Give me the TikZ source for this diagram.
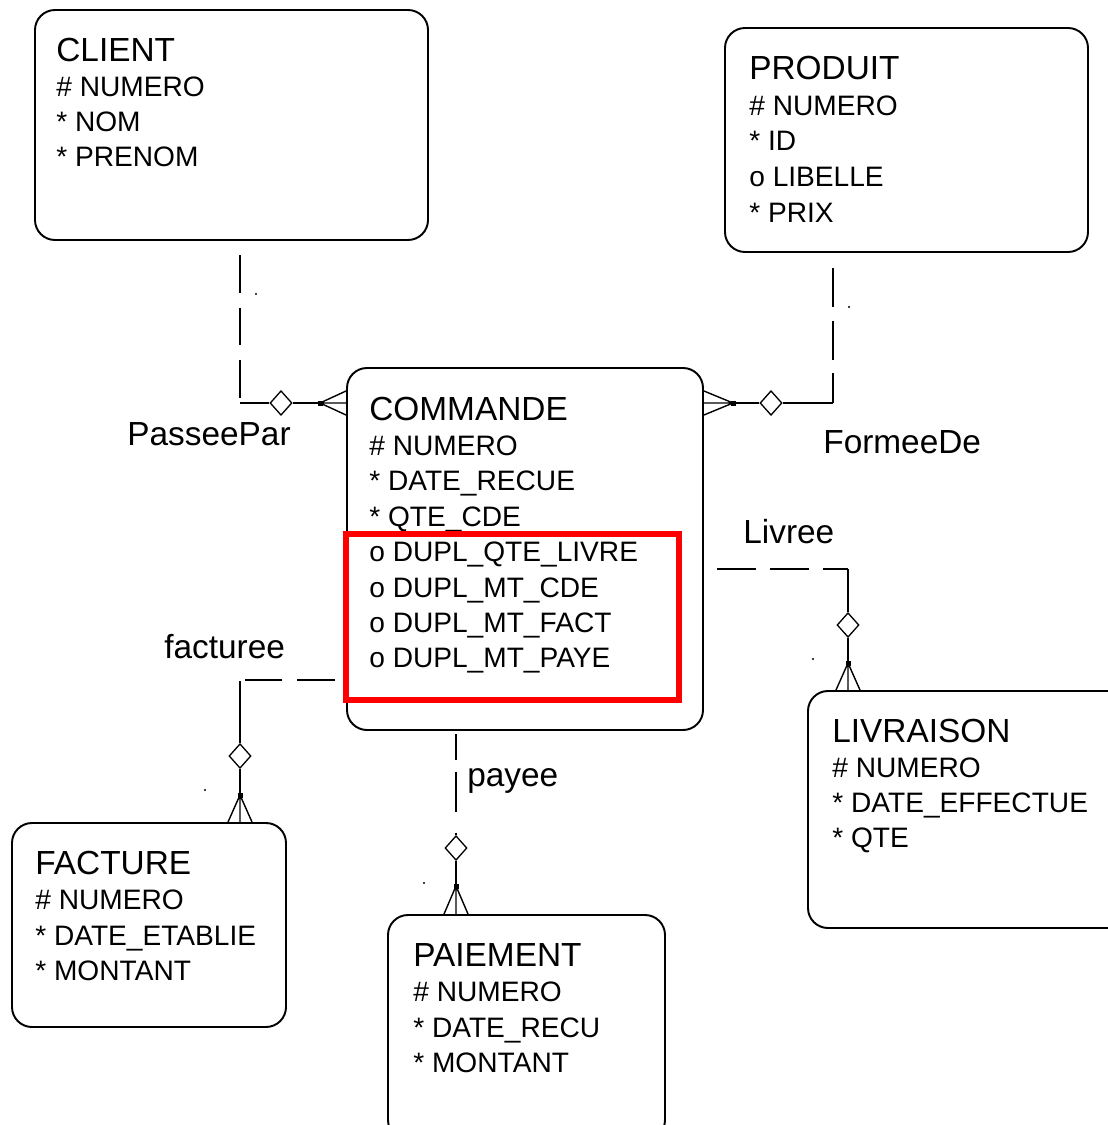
\documentclass[tikz,border=0pt]{standalone}
\usepackage{fontspec}
\setmainfont{Liberation Sans}
\usetikzlibrary{fit,shapes.geometric,calc}
\begin{document}
\begin{tikzpicture}[x=0.02cm,y=-0.02cm,
  ent/.style={draw, line width=1.1pt, rounded corners=0.4cm, inner sep=0pt},
  ttl/.style={anchor=base west, inner sep=0pt, font=\fontsize{19}{19}\selectfont},
  att/.style={anchor=base west, inner sep=0pt, font=\fontsize{16}{16}\selectfont},
  lbl/.style={anchor=base west, inner sep=0pt, font=\fontsize{19}{19}\selectfont},
  con/.style={line width=1.1pt},
  foot/.style={line width=0.8pt},
  dia/.style={draw, diamond, line width=0.75pt, inner sep=0pt, minimum width=12.5pt, minimum height=14pt, fill=white},
  hl/.style={draw=red, line width=3.4pt, inner sep=0pt},
  speck/.style={fill=black}
]
\useasboundingbox (0,0) rectangle (1108,1125);
\clip (0,0) rectangle (1108,1125);

% ---------- entities ----------
\node[ent, fit={(35,10) (428,240)}] (client) {};
\node[ttl] (client-t) at (56,62) {CLIENT};
\foreach \s [count=\i] in {\# NUMERO, * NOM, * PRENOM}
  \node[att] (client-\i) at (56,62+35*\i) {\s};

\node[ent, fit={(725,28) (1088,252)}] (produit) {};
\node[ttl] (produit-t) at (749,80) {PRODUIT};
\foreach \s [count=\i] in {\# NUMERO, * ID, o LIBELLE, * PRIX}
  \node[att] (produit-\i) at (749,80+35.5*\i) {\s};

\node[ent, fit={(347,368) (703,730)}] (commande) {};
\node[ttl] (commande-t) at (369,420) {COMMANDE};
\foreach \s [count=\i] in {\# NUMERO, * DATE\_RECUE, * QTE\_CDE, o DUPL\_QTE\_LIVRE, o DUPL\_MT\_CDE, o DUPL\_MT\_FACT, o DUPL\_MT\_PAYE}
  \node[att] (commande-\i) at (369,420+35.4*\i) {\s};

\node[ent, fit={(808,691) (1130,928)}] (livraison) {};
\node[ttl] (livraison-t) at (832,742) {LIVRAISON};
\foreach \s [count=\i] in {\# NUMERO, * DATE\_EFFECTUE, * QTE}
  \node[att] (livraison-\i) at (832,742+35*\i) {\s};

\node[ent, fit={(12,823) (286,1027)}] (facture) {};
\node[ttl] (facture-t) at (35,874) {FACTURE};
\foreach \s [count=\i] in {\# NUMERO, * DATE\_ETABLIE, * MONTANT}
  \node[att] (facture-\i) at (35,874+35.5*\i) {\s};

\node[ent, fit={(388,915) (665,1140)}] (paiement) {};
\node[ttl] (paiement-t) at (413,966) {PAIEMENT};
\foreach \s [count=\i] in {\# NUMERO, * DATE\_RECU, * MONTANT}
  \node[att] (paiement-\i) at (413,966+35.5*\i) {\s};

% highlight
\coordinate (hlA) at (346,534);
\coordinate (hlB) at (679,700);
\node[hl, fit=(hlA) (hlB)] (highlight) {};

% ---------- PasseePar ----------
\coordinate (pp0) at (240,255);
\coordinate (pp1) at (240,403);
\node[dia] (ppd) at (281,403) {};
\coordinate (ppf) at (320,403);
\draw[con, dash pattern=on 21.5pt off 8.5pt] (pp0) -- (pp1);
\draw[con] (pp1) -- (ppd.west) (ppd.east) -- (ppf);
\fill (ppf) +(-2.5,-2.5) rectangle +(2.5,2.5);
\draw[foot] (ppf) -- (commande.west |- ppf)
  (ppf) -- ($(commande.west |- ppf)+(0,-12)$)
  (ppf) -- ($(commande.west |- ppf)+(0,12)$);
\node[lbl] (pplbl) at (127,445) {PasseePar};
\fill[speck] (256,294) circle (1.2);

% ---------- FormeeDe ----------
\coordinate (fd0) at (833,268);
\coordinate (fd1) at (833,403);
\node[dia] (fdd) at (771,403) {};
\coordinate (fdf) at (733,403);
\draw[con, dash pattern=on 22.1pt off 7.9pt] (fd0) -- (fd1);
\draw[con] (fd1) -- (fdd.east) (fdd.west) -- (fdf);
\fill (fdf) +(-2.5,-2.5) rectangle +(2.5,2.5);
\draw[foot] (fdf) -- (commande.east |- fdf)
  (fdf) -- ($(commande.east |- fdf)+(0,-12)$)
  (fdf) -- ($(commande.east |- fdf)+(0,12)$);
\node[lbl] (fdlbl) at (823,453) {FormeeDe};
\fill[speck] (849,307) circle (1.2);

% ---------- Livree ----------
\coordinate (lv0) at (717,569);
\coordinate (lv1) at (848,569);
\node[dia] (lvd) at (848,625) {};
\coordinate (lvf) at (848,663);
\draw[con, dash pattern=on 22.1pt off 8.2pt] (lv0) -- (lv1);
\draw[con] (lv1) -- (lvd.north) (lvd.south) -- (lvf);
\fill (lvf) +(-2.5,-2.5) rectangle +(2.5,2.5);
\draw[foot] (lvf) -- (lvf |- livraison.north)
  (lvf) -- ($(lvf |- livraison.north)+(-12,0)$)
  (lvf) -- ($(lvf |- livraison.north)+(12,0)$);
\node[lbl] (lvlbl) at (743,543) {Livree};
\fill[speck] (813,659) circle (1.2);

% ---------- facturee ----------
\coordinate (fa0) at (335,680);
\coordinate (fa1) at (243,680);
\coordinate (fa2) at (240,681);
\node[dia] (fad) at (240,756) {};
\coordinate (faf) at (240,795);
\draw[con, dash pattern=on 21.5pt off 8.5pt] (fa0) -- (fa1);
\draw[con] (fa2) -- (fad.north) (fad.south) -- (faf);
\fill (faf) +(-2.5,-2.5) rectangle +(2.5,2.5);
\draw[foot] (faf) -- (faf |- facture.north)
  (faf) -- ($(faf |- facture.north)+(-12,0)$)
  (faf) -- ($(faf |- facture.north)+(12,0)$);
\node[lbl] (falbl) at (164,658) {facturee};
\fill[speck] (205,790) circle (1.2);

% ---------- payee ----------
\coordinate (pa0) at (456,734);
\node[dia] (pad) at (456,848) {};
\coordinate (paf) at (456,886);
\draw[con, dash pattern=on 14.7pt off 6.8pt on 22.7pt off 11.9pt on 22.7pt off 1pt] (pa0) -- (pad.north);
\draw[con] (pad.south) -- (paf);
\fill (paf) +(-2.5,-2.5) rectangle +(2.5,2.5);
\draw[foot] (paf) -- (paf |- paiement.north)
  (paf) -- ($(paf |- paiement.north)+(-12,0)$)
  (paf) -- ($(paf |- paiement.north)+(12,0)$);
\node[lbl] (palbl) at (467,786) {payee};
\fill[speck] (424,883) circle (1.2);
\end{tikzpicture}
\end{document}
